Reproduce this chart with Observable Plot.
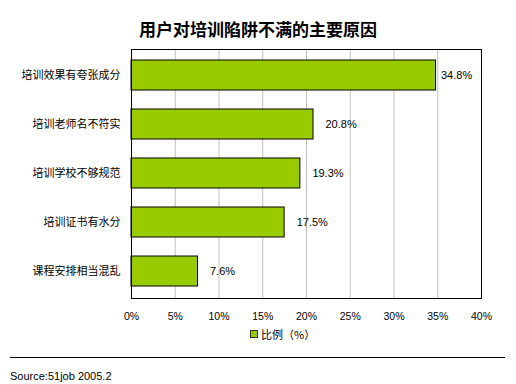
<!DOCTYPE html>
<html>
<head>
<meta charset="utf-8">
<script src="https://cdn.jsdelivr.net/npm/d3@7"></script>
<script src="https://cdn.jsdelivr.net/npm/@observablehq/plot@0.6"></script>
<style>
  html, body { margin: 0; padding: 0; background: #fff; }
  #wrap { position: relative; width: 516px; height: 384px; overflow: hidden; background: #fff; }
  #title { position: absolute; left: 0; width: 516px; top: 19px; text-align: center; font-family: "Noto Sans CJK SC", sans-serif; font-weight: bold; font-size: 17px; line-height: 20px; color: #000; }
  #chart { position: absolute; left: 0; top: 0; }
  #legend { position: absolute; left: 250px; top: 327px; font-family: "Noto Sans CJK SC", sans-serif; font-size: 11px; line-height: 14px; color: #000; display: flex; align-items: center; }
  #legend .sw { width: 6px; height: 6px; background: #99cc00; border: 1px solid #333; margin-right: 3px; }
  #rule { position: absolute; left: 10px; width: 495px; top: 357px; height: 0; border-top: 1px solid #000; }
  #source { position: absolute; left: 10px; top: 369px; font-family: "Liberation Sans", Arial, sans-serif; font-size: 11px; line-height: 14px; color: #000; }
</style>
</head>
<body>
<div id="wrap">
  <div id="title">用户对培训陷阱不满的主要原因</div>
  <div id="chart"></div>
  <div id="legend"><span class="sw"></span><span>比例（%）</span></div>
  <div id="rule"></div>
  <div id="source">Source:51job 2005.2</div>
</div>
<script>
const categories = ["培训效果有夸张成分", "培训老师名不符实", "培训学校不够规范", "培训证书有水分", "课程安排相当混乱"];
const values = [34.8, 20.8, 19.3, 17.5, 7.6];
const xTicks = [0, 5, 10, 15, 20, 25, 30, 35, 40];

const data = categories.map((c, i) => ({cat: c, value: values[i]}));

const chart = Plot.plot({
  width: 516,
  height: 330,
  marginTop: 49,
  marginLeft: 131,
  marginRight: 35,
  marginBottom: 32,
  style: {background: "transparent", color: "#000"},
  x: {domain: [0, 40], ticks: xTicks, tickFormat: d => d + "%", label: null},
  y: {domain: categories, paddingInner: 0.38, paddingOuter: 0.19, label: null},
  marks: [
    Plot.ruleX(xTicks, {stroke: "#c0c0c0", strokeWidth: 1}),
    Plot.barX(data, {x: "value", y: "cat", fill: "#99cc00", stroke: "#000", strokeWidth: 1}),
    Plot.text(data.filter((d, i) => i === 0), {x: "value", y: "cat", text: d => d.value.toFixed(1) + "%", textAnchor: "start", dx: 5, fontSize: 11, fontFamily: "Liberation Sans, Arial, sans-serif", fill: "#000"}),
    Plot.text(data.filter((d, i) => i > 0), {x: "value", y: "cat", text: d => d.value.toFixed(1) + "%", textAnchor: "start", dx: 12, fontSize: 11, fontFamily: "Liberation Sans, Arial, sans-serif", fill: "#000"}),
    Plot.frame({stroke: "#000", strokeWidth: 1}),
    Plot.axisX({ticks: xTicks, tickFormat: d => d + "%", tickSize: 0, tickPadding: 14, fontSize: 10.5, fontFamily: "Liberation Sans, Arial, sans-serif", label: null}),
    Plot.axisY({tickSize: 0, tickPadding: 11, fontSize: 11, fontFamily: "Noto Sans CJK SC, sans-serif", label: null})
  ]
});
document.getElementById("chart").appendChild(chart);
</script>
</body>
</html>
